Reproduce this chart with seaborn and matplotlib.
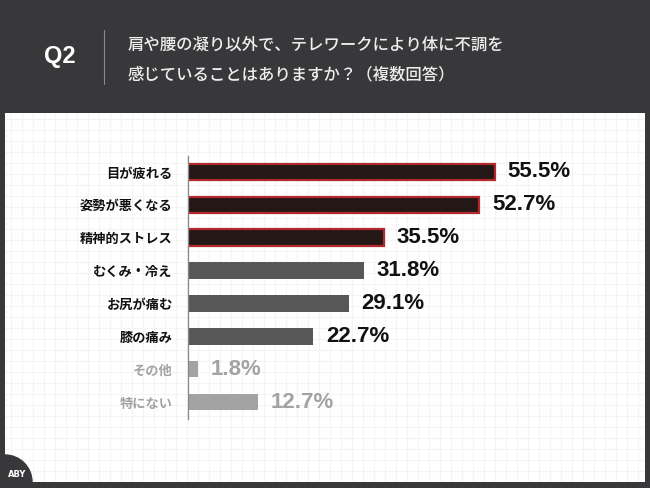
import seaborn as sns
import matplotlib.pyplot as plt
import matplotlib.patches as mpatches
import pandas as pd
import numpy as np

# data
categories = ['目が疲れる', '姿勢が悪くなる', '精神的ストレス', 'むくみ・冷え',
              'お尻が痛む', '膝の痛み', 'その他', '特にない']
values = [55.5, 52.7, 35.5, 31.8, 29.1, 22.7, 1.8, 12.7]
groups = ['top', 'top', 'top', 'mid', 'mid', 'mid', 'low', 'low']

df = pd.DataFrame({'item': categories, 'pct': values, 'group': groups})

fill = {'top': '#231815', 'mid': '#575757', 'low': '#a3a3a3'}
edge = {'top': '#b3282d', 'mid': '#575757', 'low': '#a3a3a3'}
label_col = {'top': '#111111', 'mid': '#111111', 'low': '#a3a3a3'}
value_col = {'top': '#111111', 'mid': '#111111', 'low': '#a3a3a3'}

sns.set_style('white')
plt.rcParams['font.family'] = ['Noto Sans CJK JP', 'DejaVu Sans']

W, H = 650, 488
fig = plt.figure(figsize=(6.5, 4.88), dpi=100)
fig.patch.set_facecolor('#38383a')

def fx(px):
    return px / W

def fy(py):
    return 1 - py / H

# white panel with faint grid
px0, py0, px1, py1 = 5, 113, 645, 482
bg = fig.add_axes([fx(px0), fy(py1), fx(px1 - px0), (py1 - py0) / H])
bg.set_facecolor('white')
bg.set_xlim(px0, px1)
bg.set_ylim(py1, py0)
bg.set_xticks(np.arange(px0 + 6, px1, 11))
bg.set_yticks(np.arange(py0 + 6, py1, 11))
bg.grid(True, color='#f4f4f4', linewidth=0.8)
bg.tick_params(length=0, labelbottom=False, labelleft=False)
for s in bg.spines.values():
    s.set_visible(False)
# logo corner
bg.add_patch(mpatches.Circle((px0, py1), 27, color='#38383a', clip_on=True))
bg.text(px0 + 3, 477, 'ABY', color='white', fontsize=6, fontweight='bold',
        family=['DejaVu Sans'], ha='left', va='baseline')

# header
fig.text(fx(60), fy(57), 'Q2', color='white', fontsize=17, fontweight='bold',
         family=['Liberation Sans', 'DejaVu Sans'], ha='center', va='center')
fig.add_artist(plt.Line2D([fx(104), fx(104)], [fy(30), fy(84)],
                          color='#8a8a8a', linewidth=0.8))
fig.text(fx(128), fy(45), '肩や腰の凝り以外で、テレワークにより体に不調を',
         color='#eeeeee', fontsize=11.8, fontweight='medium', ha='left', va='center')
fig.text(fx(128), fy(75), '感じていることはありますか？（複数回答）',
         color='#eeeeee', fontsize=11.8, fontweight='medium', ha='left', va='center')

# bars
ax = fig.add_axes([fx(188), fy(418.5), fx(442), 263 / H])
ax.patch.set_alpha(0)
sns.barplot(data=df, x='pct', y='item', orient='h', width=0.5, ax=ax,
            color='#575757')
for bar, g in zip(ax.patches, groups):
    bar.set_facecolor(fill[g])
    bar.set_edgecolor(edge[g])
    bar.set_linewidth(1.6 if g == 'top' else 0)

ax.set_xlim(0, 80)
ax.set_ylim(7.5, -0.5)
ax.set_xlabel('')
ax.set_ylabel('')
ax.set_xticks([])
for s in ['top', 'right', 'bottom']:
    ax.spines[s].set_visible(False)
ax.spines['left'].set_color('#888888')
ax.spines['left'].set_linewidth(0.9)
ax.tick_params(axis='y', length=0, pad=11)
for lbl, g in zip(ax.get_yticklabels(), groups):
    lbl.set_color(label_col[g])
    lbl.set_fontsize(9.5)
    lbl.set_fontweight('bold')

for i, (v, g) in enumerate(zip(values, groups)):
    ax.text(v + 2.3, i, f'{v}%', color=value_col[g], fontsize=16,
            fontweight='bold', family=['Liberation Sans', 'DejaVu Sans'],
            ha='left', va='center')

fig.savefig('out.png', dpi=100, facecolor=fig.get_facecolor())
plt.close(fig)
